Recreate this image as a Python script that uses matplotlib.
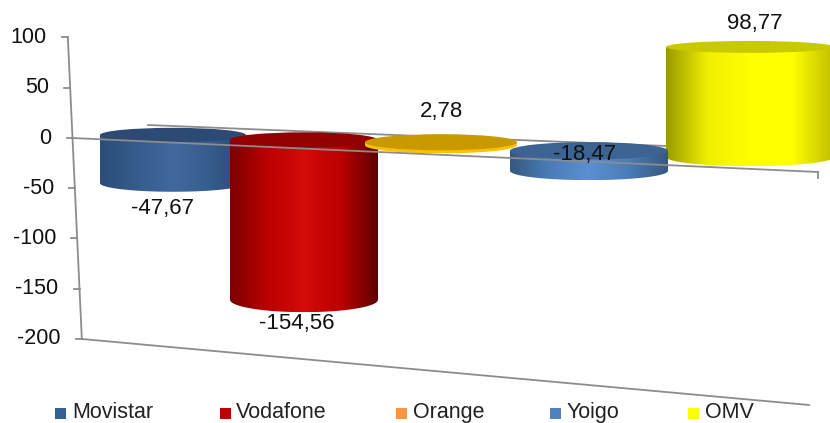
import numpy as np
import matplotlib
matplotlib.use("Agg")
import matplotlib.pyplot as plt
from matplotlib.colors import LinearSegmentedColormap
from matplotlib.patches import Ellipse, PathPatch, Rectangle
from matplotlib.path import Path

plt.rcParams["font.family"] = ["Liberation Sans", "DejaVu Sans"]

operators = ["Movistar", "Vodafone", "Orange", "Yoigo", "OMV"]
values = [-47.67, -154.56, 2.78, -18.47, 98.77]
value_labels = ["-47,67", "-154,56", "2,78", "-18,47", "98,77"]
y_ticks = [100, 50, 0, -50, -100, -150, -200]

# chart geometry, in pixels of the 830x423 picture
centers = [173, 304, 441, 589, 750]
half_widths = [73, 74, 76, 79, 84]
label_offsets = [(-11, 17), (-7, 11), (0, -23), (-4, 4), (5, -17)]
legend_text_x = [72, 236, 413, 567, 705]
legend_box_x = [55, 220, 396, 550, 688]
draw_order = [0, 1, 4, 3, 2]

legend_colors = ["#376092", "#C00000", "#F79646", "#4F81BD", "#FFFF00"]
top_colors = ["#2C4A73", "#920000", "#C89A00", "#3C6391", "#C9C900"]
side_colors = [
    ["#2C4D78", "#345C8C", "#42699F", "#345C8C", "#2A4A72"],
    ["#7A0000", "#BC0000", "#D40A0A", "#BC0000", "#5E0000"],
    ["#FFC000", "#FFC000", "#FFC000", "#FFC000", "#FFC000"],
    ["#36597F", "#4A7DB8", "#5B8FD0", "#4A7DB8", "#36597F"],
    ["#9A9A00", "#F0F000", "#FFFF00", "#FFFF00", "#C0C000"],
]
AXIS_GREY = "#8C8C8C"


def zero_plane(x):
    return 135 + 0.038 * (x - 173)


def value_scale(x):
    return 1.01 + 0.00018 * (x - 173)


def ellipse_ry(x, y):
    return 0.03 * y + 0.0025 * x + 2.7


def axis_point(v):
    return 72.5 - 0.0467 * v, 138 - 1.005 * v


def draw_cylinder(ax, i, zorder):
    cx = centers[i]
    hw = half_widths[i]
    base = zero_plane(cx)
    end = base - values[i] * value_scale(cx)
    top, bottom = min(base, end), max(base, end)
    ry_top = ellipse_ry(cx, top)
    ry_bottom = ellipse_ry(cx, bottom)

    # body: rectangle closed by the lower half of the bottom ellipse
    t = np.linspace(0, np.pi, 60)
    xs = np.concatenate([[cx - hw], cx - hw * np.cos(t), [cx + hw]])
    ys = np.concatenate([[top], bottom + ry_bottom * np.sin(t), [top]])
    body = PathPatch(Path(np.column_stack([xs, ys])), transform=ax.transData,
                     facecolor="none", edgecolor="none")
    ax.add_patch(body)
    cmap = LinearSegmentedColormap.from_list(operators[i], side_colors[i])
    im = ax.imshow(np.linspace(0, 1, 256)[None, :], cmap=cmap, aspect="auto",
                   extent=(cx - hw, cx + hw, bottom + ry_bottom, top),
                   zorder=zorder, interpolation="bilinear")
    im.set_clip_path(body)
    ax.add_patch(Ellipse((cx, top), 2 * hw, 2 * ry_top, facecolor=top_colors[i],
                         edgecolor="none", zorder=zorder + 0.1))


fig = plt.figure(figsize=(8.3, 4.23), dpi=100)
ax = fig.add_axes([0, 0, 1, 1])
ax.axis("off")

# back wall line sits behind the cylinders
ax.plot([148, 666], [125, 146], color=AXIS_GREY, lw=1.3, zorder=1)

for n, i in enumerate(draw_order):
    draw_cylinder(ax, i, 2 + n)

# value axis
x_top, y_top = axis_point(y_ticks[0])
x_bot, y_bot = axis_point(y_ticks[-1])
ax.plot([x_top, x_bot], [y_top, y_bot], color=AXIS_GREY, lw=1.3, zorder=10)
for v in y_ticks:
    tx, ty = axis_point(v)
    ax.plot([tx - 6, tx], [ty, ty], color=AXIS_GREY, lw=1.3, zorder=10)
    ax.text(tx - 21, ty, str(v), ha="right", va="center", fontsize=15.5,
            color="#111111", zorder=11)

# zero line runs in front, the floor line closes the bottom
ax.plot([72, 818], [138, 172], color=AXIS_GREY, lw=1.3, zorder=10)
ax.plot([818, 818], [172, 178], color=AXIS_GREY, lw=1.3, zorder=10)
ax.plot([x_bot, 809], [y_bot, 405], color=AXIS_GREY, lw=1.3, zorder=10)

# data labels
for i, label in enumerate(value_labels):
    cx = centers[i]
    base = zero_plane(cx)
    end = base - values[i] * value_scale(cx)
    anchor = min(base, end) - ellipse_ry(cx, min(base, end)) if values[i] > 0 \
        else max(base, end) + ellipse_ry(cx, max(base, end))
    if operators[i] == "Yoigo":
        anchor = min(base, end)
    dx, dy = label_offsets[i]
    ax.text(cx + dx, anchor + dy, label, ha="center", va="center", fontsize=16,
            color="#111111", zorder=12)

# legend
for i, name in enumerate(operators):
    ax.add_patch(Rectangle((legend_box_x[i], 408), 11, 11, facecolor=legend_colors[i],
                           edgecolor="none", zorder=10))
    ax.text(legend_text_x[i], 418, name, ha="left", va="baseline", fontsize=15.5,
            color="#222222", zorder=10)

ax.set_xlim(0, 830)
ax.set_ylim(423, 0)

fig.savefig("out.png", dpi=100, facecolor="white")
plt.close(fig)
